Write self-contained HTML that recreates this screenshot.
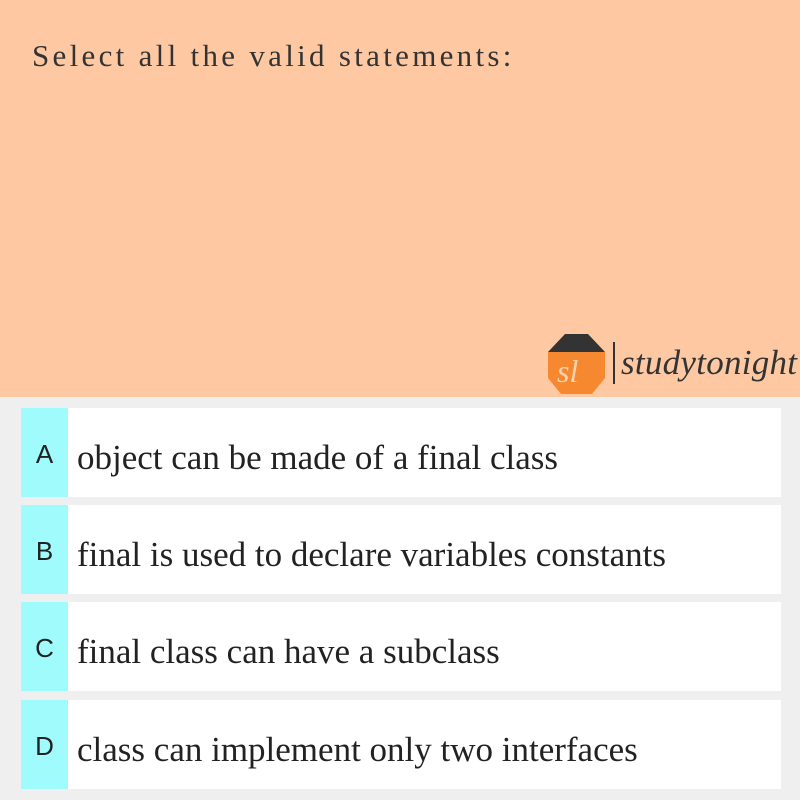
<!DOCTYPE html>
<html><head><meta charset="utf-8"><style>
body{margin:0;width:800px;height:800px;background:#efefef;position:relative;overflow:hidden;font-family:"Liberation Sans",sans-serif}
#hdr{position:absolute;left:0;top:0;width:800px;height:397px;background:#fec8a2}
#q{position:absolute;left:32px;top:38px;font-family:"Liberation Serif",serif;font-size:31px;color:#333;letter-spacing:3.3px;white-space:nowrap}
.opt{position:absolute;left:21px;width:760px;height:89px;background:#fff}
.lab{position:absolute;left:0;top:0;width:47px;height:100%;background:#a0fbfd;font-size:26px;color:#222;text-align:center}
.lab span{position:relative;top:31px}
.txt{position:absolute;left:56px;top:30px;font-family:"Liberation Serif",serif;font-size:35px;color:#222;white-space:nowrap}
</style></head><body>
<div id="hdr">
<div id="q">Select all the valid statements:</div>
<svg style="position:absolute;left:545px;top:330px" width="255" height="70">
<path d="M3,22 L20,4 L43,4 L60,22 Z" fill="#333"/>
<path d="M3,22 L60,22 L60,48 L47,64 L16,64 L3,48 Z" fill="#f6892f"/>
<text x="12" y="52" font-family="Liberation Serif" font-style="italic" font-size="32" fill="#fcd3b0">sl</text>
<line x1="69" y1="12" x2="69" y2="54" stroke="#333" stroke-width="2"/>
<text x="76" y="44" font-family="Liberation Serif" font-style="italic" font-size="35" fill="#333" textLength="176">studytonight</text>
</svg>
</div>
<div class="opt" style="top:408px"><div class="lab"><span>A</span></div><div class="txt">object can be made of a final class</div></div>
<div class="opt" style="top:505px"><div class="lab"><span>B</span></div><div class="txt">final is used to declare variables constants</div></div>
<div class="opt" style="top:602px"><div class="lab"><span>C</span></div><div class="txt">final class can have a subclass</div></div>
<div class="opt" style="top:700px"><div class="lab"><span>D</span></div><div class="txt">class can implement only two interfaces</div></div>
</body></html>
